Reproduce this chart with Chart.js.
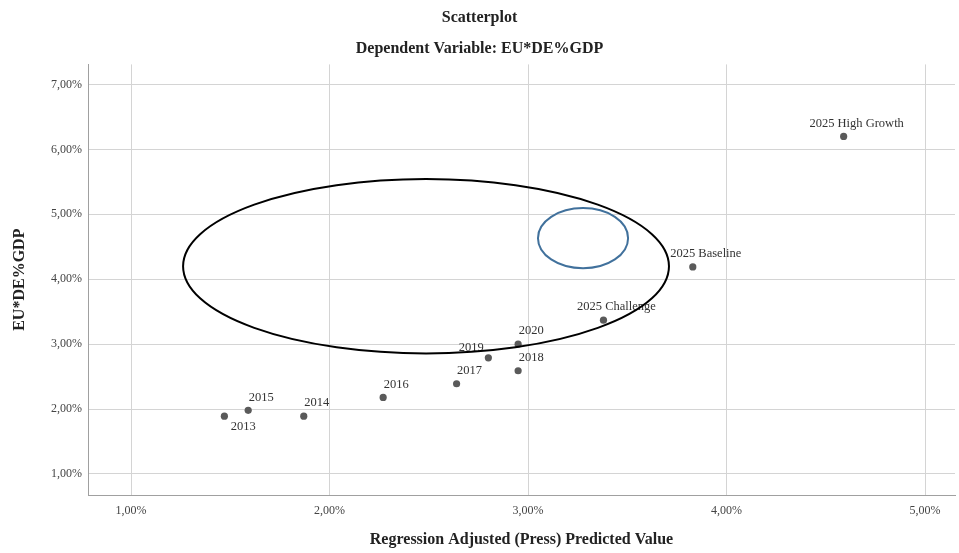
<!DOCTYPE html>
<html>
<head>
<meta charset="utf-8">
<script src="https://cdn.jsdelivr.net/npm/chart.js@4.4.0/dist/chart.umd.min.js"></script>
<style>
body { margin: 0; background: #fff; }
</style>
</head>
<body>
<canvas id="scatterChart" width="959" height="553"></canvas>
<script>
// point labels and values (both axes in %)
const pointLabels = ["2013", "2015", "2014", "2016", "2017", "2019", "2020", "2018",
    "2025 Challenge", "2025 Baseline", "2025 High Growth"];
const predicted = [1.47, 1.59, 1.87, 2.27, 2.64, 2.80, 2.95, 2.95, 3.38, 3.83, 4.59];
const gdpShare = [1.89, 1.98, 1.89, 2.18, 2.39, 2.79, 3.00, 2.59, 3.37, 4.19, 6.20];
// where each label sits relative to its point
const labelSide = ["below", "above", "above", "above", "above", "left", "above", "above",
    "above", "above", "above"];

const xTicks = [1, 2, 3, 4, 5];
const yTicks = [1, 2, 3, 4, 5, 6, 7];

// hand drawn ellipses on top of the chart (center and radii in axis units)
const ringCenterX = [2.486, 3.277];
const ringCenterY = [4.20, 4.633];
const ringRadiusX = [1.224, 0.227];
const ringRadiusY = [1.343, 0.463];
const ringColors = ["#000000", "#41719c"];

const serif = "'Liberation Serif', 'Times New Roman', serif";

function pct(v) {
    return v.toFixed(2).replace('.', ',') + '%';
}

const points = predicted.map((x, i) => ({ x: x, y: gdpShare[i] }));

const overlayPlugin = {
    id: 'overlay',
    afterDatasetsDraw(chart) {
        const ctx = chart.ctx;
        const xs = chart.scales.x;
        const ys = chart.scales.y;

        // labels next to points
        const meta = chart.getDatasetMeta(0);
        ctx.save();
        ctx.font = "12.5px " + serif;
        ctx.fillStyle = '#333';
        ctx.textAlign = 'center';
        ctx.textBaseline = 'middle';
        meta.data.forEach((pt, i) => {
            let dx = 13, dy = -13;
            if (labelSide[i] === 'below') { dx = 19; dy = 11; }
            if (labelSide[i] === 'left') { dx = -17; dy = -10; }
            ctx.fillText(pointLabels[i], pt.x + dx, pt.y + dy);
        });
        ctx.restore();

        // ellipses
        ctx.save();
        ctx.lineWidth = 2;
        ringCenterX.forEach((cx, i) => {
            const px = xs.getPixelForValue(cx);
            const py = ys.getPixelForValue(ringCenterY[i]);
            const rx = Math.abs(xs.getPixelForValue(cx + ringRadiusX[i]) - px);
            const ry = Math.abs(ys.getPixelForValue(ringCenterY[i] + ringRadiusY[i]) - py);
            ctx.strokeStyle = ringColors[i];
            ctx.beginPath();
            ctx.ellipse(px, py, rx, ry, 0, 0, Math.PI * 2);
            ctx.stroke();
        });
        ctx.restore();
    }
};

const ctx = document.getElementById("scatterChart").getContext('2d');
const scatterChart = new Chart(ctx, {
    type: 'scatter',
    data: {
        datasets: [{
            data: points,
            backgroundColor: '#5a5a5a',
            borderWidth: 0,
            pointRadius: 3.6
        }]
    },
    options: {
        responsive: false,
        animation: false,
        layout: { padding: 0 },
        plugins: {
            legend: { display: false },
            tooltip: { enabled: false },
            title: {
                display: true,
                text: 'Scatterplot',
                color: '#222',
                font: { family: serif, size: 16, weight: 'bold' },
                padding: { top: 8, bottom: 12 }
            },
            subtitle: {
                display: true,
                text: 'Dependent Variable: EU*DE%GDP',
                color: '#222',
                font: { family: serif, size: 16, weight: 'bold' },
                padding: { top: 0, bottom: 6 }
            }
        },
        scales: {
            x: {
                type: 'linear',
                min: 0.783,
                max: 5.151,
                afterBuildTicks: s => { s.ticks = xTicks.map(v => ({ value: v })); },
                afterFit: s => { s.height = 58; s.paddingLeft = 0; s.paddingRight = 0; },
                grid: { color: '#d4d4d4', drawTicks: false },
                border: { color: '#a0a0a0' },
                ticks: {
                    padding: 9,
                    color: '#444',
                    font: { family: serif, size: 12 },
                    callback: v => pct(v)
                },
                title: {
                    display: true,
                    text: 'Regression Adjusted (Press) Predicted Value',
                    color: '#222',
                    font: { family: serif, size: 16, weight: 'bold' },
                    padding: { top: 0, bottom: 4 }
                }
            },
            y: {
                type: 'linear',
                min: 0.676,
                max: 7.31,
                afterBuildTicks: s => { s.ticks = yTicks.map(v => ({ value: v })); },
                afterFit: s => { s.width = 88; },
                grid: { color: '#d4d4d4', drawTicks: false },
                border: { color: '#a0a0a0' },
                ticks: {
                    padding: 6,
                    color: '#444',
                    font: { family: serif, size: 12 },
                    callback: v => pct(v)
                },
                title: {
                    display: true,
                    text: 'EU*DE%GDP',
                    color: '#222',
                    font: { family: serif, size: 16, weight: 'bold' },
                    padding: { top: 10, bottom: 0 }
                }
            }
        }
    },
    plugins: [overlayPlugin]
});
</script>
</body>
</html>
